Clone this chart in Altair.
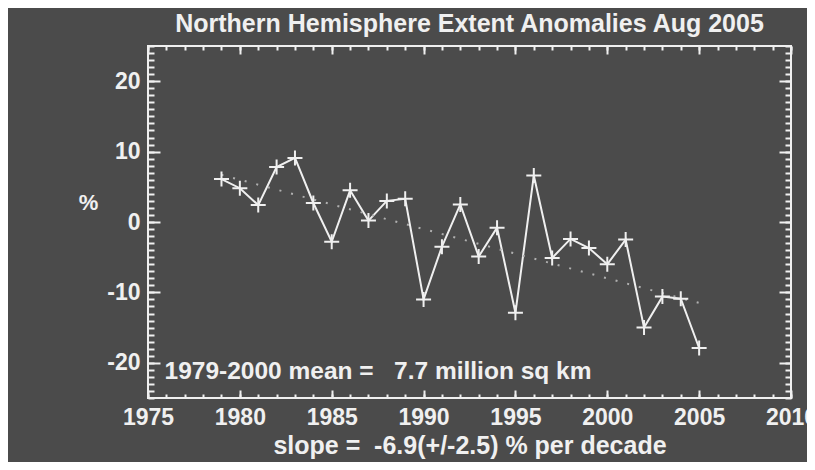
import altair as alt
import pandas as pd

# ---- data ----
years = list(range(1979, 2006))
anomalies = [6.1, 4.8, 2.4, 7.8, 9.1, 2.7, -2.8, 4.5, 0.2, 3.0, 3.3, -11.0, -3.5, 2.5,
             -4.9, -0.8, -12.9, 6.6, -5.1, -2.4, -3.7, -6.0, -2.5, -15.0, -10.6, -10.9, -17.9]
trend_years = [1979, 2005]
trend_values = [6.7, -11.5]

x_major = [1975, 1980, 1985, 1990, 1995, 2000, 2005, 2010]
x_minor = list(range(1975, 2011))
y_major = [-20, -10, 0, 10, 20]
y_minor = list(range(-25, 26))

title_text = "Northern Hemisphere Extent Anomalies Aug 2005"
mean_text = "1979-2000 mean =\u00a0\u00a0 7.7 million sq km"
slope_text = "slope =\u00a0 -6.9(+/-2.5) % per decade"

df = pd.DataFrame({"year": years, "value": anomalies})
trend = pd.DataFrame({"year": trend_years, "value": trend_values})
note = pd.DataFrame({"year": [1975.9], "value": [-21.3], "label": [mean_text]})

FG = "#f0f0f0"
BG = "#4b4b4b"
FONT = "Liberation Sans"

xs = alt.Scale(domain=[1975, 2010], nice=False, zero=False)
ys = alt.Scale(domain=[-25, 25], nice=False, zero=False)

base = alt.Chart(df)

line = base.mark_line(color=FG, strokeWidth=2).encode(
    x=alt.X("year:Q", scale=xs, axis=alt.Axis(
        orient="bottom", values=x_major, format="d", ticks=False, domain=False, grid=False,
        labelPadding=8, labelFontSize=23, labelFont=FONT, labelFontWeight="bold",
        labelColor=FG, labelFlush=False, title=slope_text, titleFontSize=25, titleFont=FONT,
        titleFontWeight="bold", titleColor=FG, titlePadding=4)),
    y=alt.Y("value:Q", scale=ys, axis=alt.Axis(
        orient="left", values=y_major, ticks=False, domain=False, grid=False,
        labelExpr="datum.value < 0 ? '-' + abs(datum.value) : '' + datum.value",
        labelPadding=8, labelFontSize=23, labelFont=FONT, labelFontWeight="bold",
        labelColor=FG, title="%", titleAngle=0, titleX=-60, titleY=156,
        titleAlign="center", titleBaseline="middle", titleFontSize=22, titleFont=FONT,
        titleFontWeight="bold", titleColor=FG)),
)

cross = "M-1,0H1M0,-1V1"
points = base.mark_point(shape=cross, size=225, filled=False, color=FG, strokeWidth=2,
                         opacity=1).encode(
    x=alt.X("year:Q", scale=xs, axis=None),
    y=alt.Y("value:Q", scale=ys, axis=None),
)

trend_line = alt.Chart(trend).mark_line(color="#b0b0b0", strokeWidth=2, strokeDash=[2, 10]).encode(
    x=alt.X("year:Q", scale=xs, axis=None),
    y=alt.Y("value:Q", scale=ys, axis=None),
)

note_text = alt.Chart(note).mark_text(align="left", baseline="middle", font=FONT,
                                      fontWeight="bold", fontSize=24.5, color=FG).encode(
    x=alt.X("year:Q", scale=xs, axis=None),
    y=alt.Y("value:Q", scale=ys, axis=None),
    text="label:N",
)


def tick_layer(xv, yv, xo, yo, xl, yl):
    return base.mark_point(opacity=0).encode(
        x=alt.X("year:Q", scale=xs, axis=alt.Axis(
            orient=xo, values=xv, tickSize=xl, offset=-xl, labels=False, domain=False,
            grid=False, title=None, tickColor=FG, tickWidth=2)),
        y=alt.Y("value:Q", scale=ys, axis=alt.Axis(
            orient=yo, values=yv, tickSize=yl, offset=-yl, labels=False, domain=False,
            grid=False, title=None, tickColor=FG, tickWidth=2)),
    )


t1 = tick_layer(x_major, y_major, "bottom", "left", 8, 12)
t2 = tick_layer(x_minor, y_minor, "bottom", "left", 4, 6)
t3 = tick_layer(x_major, y_major, "top", "right", 8, 12)
t4 = tick_layer(x_minor, y_minor, "top", "right", 4, 6)

chart = alt.layer(line, trend_line, points, note_text, t1, t2, t3, t4).resolve_axis(
    x="independent", y="independent"
).properties(
    width=643, height=352,
    autosize=alt.AutoSizeParams(type="none"),
    padding={"left": 140, "top": 38, "right": 16, "bottom": 64},
    title=alt.TitleParams(title_text, fontSize=25, font=FONT, fontWeight="bold",
                          color=FG, offset=8, anchor="middle"),
).configure(background=BG).configure_view(stroke=FG, strokeWidth=2)

chart.save("out.html", embed_options={"renderer": "svg", "actions": False})
